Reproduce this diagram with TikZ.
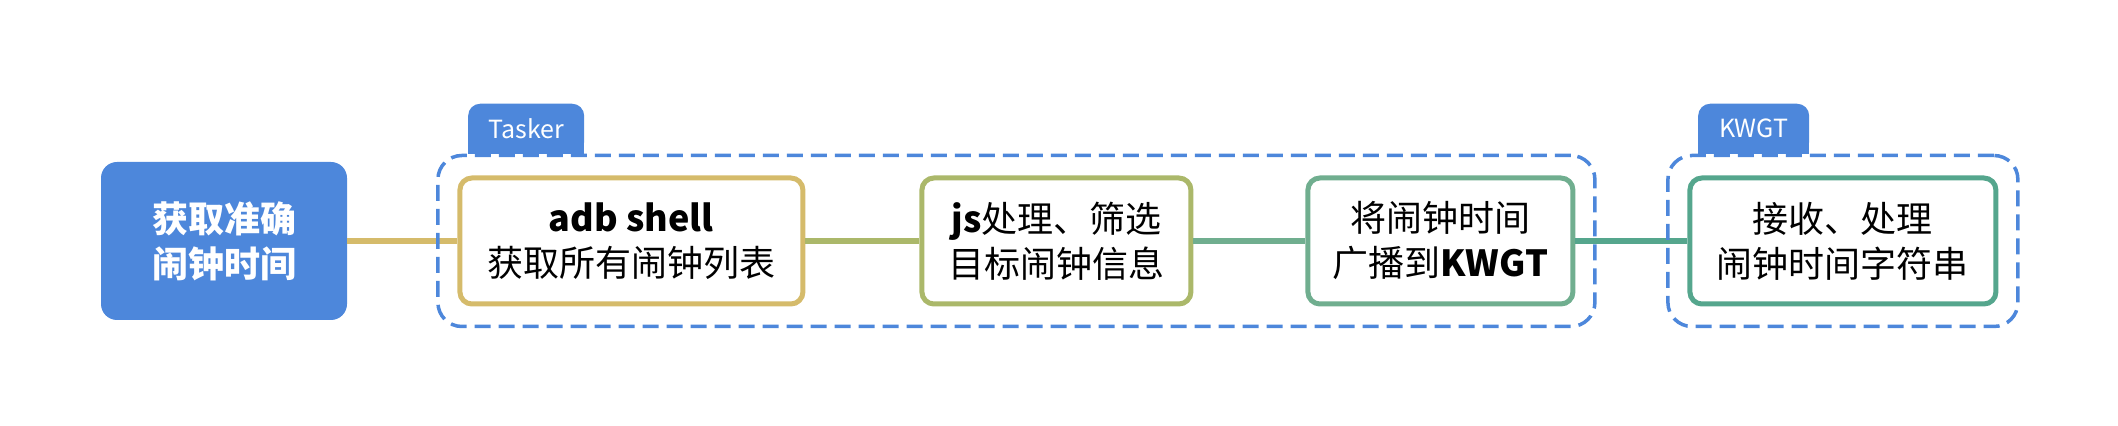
\documentclass[tikz,border=0pt]{standalone}
\usepackage{fontspec}
\setmainfont{Noto Sans CJK SC}
\usepackage{tikz}
\usetikzlibrary{positioning,fit}

\definecolor{mainblue}{HTML}{4D87DB}
\definecolor{goldline}{HTML}{D5BB6B}
\definecolor{oliveline}{HTML}{ABB86A}
\definecolor{sealine}{HTML}{70AE8F}
\definecolor{tealline}{HTML}{55A68D}

\begin{document}
\begin{tikzpicture}[x=0.5pt,y=0.5pt,node distance=56pt,
                    every node/.style={font=\fontsize{18}{22.5}\selectfont}]
  \tikzstyle{root}=[fill=mainblue,text=white,font=\fontsize{18}{22.5}\selectfont\bfseries,
                    rounded corners=8pt,minimum width=123pt,minimum height=79pt,align=center]
  \tikzstyle{task}=[draw,line width=2.5pt,fill=white,rounded corners=6pt,
                    minimum height=63pt,align=center]
  \tikzstyle{group}=[draw=mainblue,line width=1.75pt,dash pattern=on 8pt off 4pt,
                     rounded corners=12pt,inner xsep=9.75pt,inner ysep=10pt]
  \tikzstyle{tab}=[fill=mainblue,text=white,font=\fontsize{12.5}{14}\selectfont,
                   rounded corners=6pt,minimum height=25pt,outer sep=0pt,anchor=south west]
  \tikzstyle{link}=[line width=2.75pt]

  \useasboundingbox (0,0) rectangle (2118,426);

  \node[root] (main) at (224,185) {获取准确\\闹钟时间};
  \node[task,draw=goldline,minimum width=171.5pt] (adb) [right=55pt of main]
       {\textbf{adb shell}\\获取所有闹钟列表};
  \node[task,draw=oliveline,minimum width=134.5pt] (js) [right=57pt of adb]
       {\textbf{js}处理、筛选\\目标闹钟信息};
  \node[task,draw=sealine,minimum width=132.5pt] (cast) [right=of js]
       {将闹钟时间\\广播到\textbf{KWGT}};
  \node[task,draw=tealline,minimum width=153pt] (recv) [right=of cast]
       {接收、处理\\闹钟时间字符串};

  \draw[link,goldline] (main) -- (adb);
  \draw[link,oliveline] (adb) -- (js);
  \draw[link,sealine] (js) -- (cast);
  \draw[link,tealline] (cast) -- (recv);

  % dashed groups with their tabs
  \node[group,fit=(adb)(cast)] (taskergrp) {};
  \node[group,fit=(recv)] (kwgtgrp) {};

  \node[tab,minimum width=58pt] (tasker) at ([xshift=16pt]taskergrp.north west) {Tasker};
  \fill[mainblue] (tasker.south west) rectangle ([yshift=6pt]tasker.south east);
  \node[tab,minimum width=55.5pt] (kwgt) at ([xshift=16pt]kwgtgrp.north west) {KWGT};
  \fill[mainblue] (kwgt.south west) rectangle ([yshift=6pt]kwgt.south east);
\end{tikzpicture}
\end{document}
